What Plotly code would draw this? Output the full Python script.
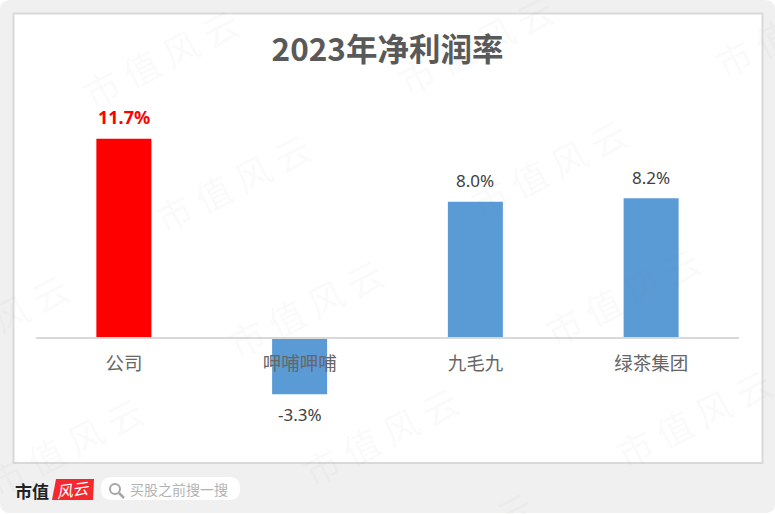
"""2023 net margin bar chart."""

import plotly.graph_objects as go

W, H = 775, 514
LEFT, RIGHT, TOP, BOTTOM = 36, 739, 80, 440
PX_PER_UNIT = 17.03
ZERO_Y = 338

TITLE = "2023年净利润率"
categories = ["公司", "呷哺呷哺", "九毛九", "绿茶集团"]
net_margin = [11.7, -3.3, 8.0, 8.2]
highlight = "公司"

# watermark centres, in page pixels
watermarks = [
    (160, 57), (232, 182), (475, 44), (548, 167), (792, 27), (-10, 322),
    (305, 307), (65, 445), (380, 435), (622, 295), (693, 417), (455, 540),
]

FONT = "Noto Sans CJK SC"
LATIN = "'Noto Sans', 'Noto Sans CJK SC'"


def px(x):
    return (x - LEFT) / (RIGHT - LEFT)


def py(y):
    return (BOTTOM - y) / (BOTTOM - TOP)


def rounded(x0, y0, x1, y1, r):
    """SVG path for a rounded rectangle, in paper coordinates."""
    pts = [
        f"M{px(x0 + r)},{py(y0)}", f"L{px(x1 - r)},{py(y0)}",
        f"Q{px(x1)},{py(y0)} {px(x1)},{py(y0 + r)}", f"L{px(x1)},{py(y1 - r)}",
        f"Q{px(x1)},{py(y1)} {px(x1 - r)},{py(y1)}", f"L{px(x0 + r)},{py(y1)}",
        f"Q{px(x0)},{py(y1)} {px(x0)},{py(y1 - r)}", f"L{px(x0)},{py(y0 + r)}",
        f"Q{px(x0)},{py(y0)} {px(x0 + r)},{py(y0)}Z",
    ]
    return "".join(pts)


def page_text(x, y, text, size, color, xanchor="center", angle=0):
    fig.add_annotation(
        x=px(x), y=py(y), xref="paper", yref="paper", text=text, showarrow=False,
        textangle=angle, xanchor=xanchor, yanchor="middle",
        font={"family": FONT, "size": size, "color": color},
    )


colors = ["#ff0000" if c == highlight else "#5b9bd5" for c in categories]

fig = go.Figure(
    go.Bar(x=categories, y=net_margin, marker_color=colors, marker_line_width=0, width=0.313)
)

y_top = (ZERO_Y - TOP) / PX_PER_UNIT
y_bottom = (ZERO_Y - BOTTOM) / PX_PER_UNIT

fig.update_layout(
    width=W,
    height=H,
    margin={"l": LEFT, "r": W - RIGHT, "t": TOP, "b": H - BOTTOM, "pad": 0},
    paper_bgcolor="white",
    plot_bgcolor="rgba(0,0,0,0)",
    showlegend=False,
    title={
        "text": f"<b>{TITLE}</b>",
        "x": 0.5,
        "xref": "paper",
        "xanchor": "center",
        "y": 1 - 50 / H,
        "yanchor": "middle",
        "font": {"family": FONT, "size": 31.5, "color": "#595959"},
    },
)
fig.update_xaxes(
    anchor="free",
    position=(0 - y_bottom) / (y_top - y_bottom),
    showline=True,
    linecolor="#d9d9d9",
    linewidth=2,
    showgrid=False,
    zeroline=False,
    ticks="",
    ticklabelstandoff=9,
    tickfont={"family": FONT, "size": 18.5, "color": "#666666"},
)
fig.update_yaxes(range=[y_bottom, y_top], visible=False, showgrid=False, zeroline=False)

# card and page background
fig.add_shape(type="path", path=rounded(0, 0, 775, 513, 10), xref="paper", yref="paper",
              fillcolor="#f0f0f0", line_width=0, layer="below")
fig.add_shape(type="rect", x0=px(13.5), x1=px(762.5), y0=py(463), y1=py(13.5), xref="paper",
              yref="paper", fillcolor="white", line={"color": "#d9d9d9", "width": 2}, layer="below")

# value labels
for cat, val in zip(categories, net_margin):
    hot = cat == highlight
    fig.add_annotation(
        x=cat, y=val, text=f"<b>{val:.1f}%</b>" if hot else f"{val:.1f}%",
        showarrow=False, yanchor="middle", yshift=(22 if hot else 21) if val > 0 else -20,
        font={"family": LATIN, "size": 18 if hot else 17, "color": "#ff0000" if hot else "#404040"},
    )

# watermark
for wx, wy in watermarks:
    page_text(wx, wy, "市 值 风 云", 36, "rgba(110,110,110,0.055)", angle=-27)

# footer logo and search box
page_text(32, 490, "<b>市值</b>", 17, "#222222")
fig.add_shape(type="path", xref="paper", yref="paper", fillcolor="#f5282d", line_width=0, layer="below",
              path=f"M{px(56)},{py(479)}L{px(94)},{py(479)}L{px(93)},{py(500)}L{px(52)},{py(500)}Z")
page_text(73, 489, "<i>风云</i>", 16, "white", angle=-8)
fig.add_shape(type="path", path=rounded(101, 477, 240, 500, 11), xref="paper", yref="paper",
              fillcolor="white", line_width=0, layer="below")
fig.add_shape(type="circle", x0=px(110), x1=px(120), y0=py(494), y1=py(484), xref="paper", yref="paper",
              line={"color": "#a6a6a6", "width": 2}, layer="below")
fig.add_shape(type="line", x0=px(119), x1=px(124), y0=py(493), y1=py(498), xref="paper", yref="paper",
              line={"color": "#a6a6a6", "width": 2.5}, layer="below")
page_text(128, 489, "买股之前搜一搜", 14, "#b3b3b3", xanchor="left")

fig.write_html(
    "out.html",
    config={"displayModeBar": False},
    post_script="document.body.style.margin='0';document.documentElement.style.overflow='hidden';",
)
